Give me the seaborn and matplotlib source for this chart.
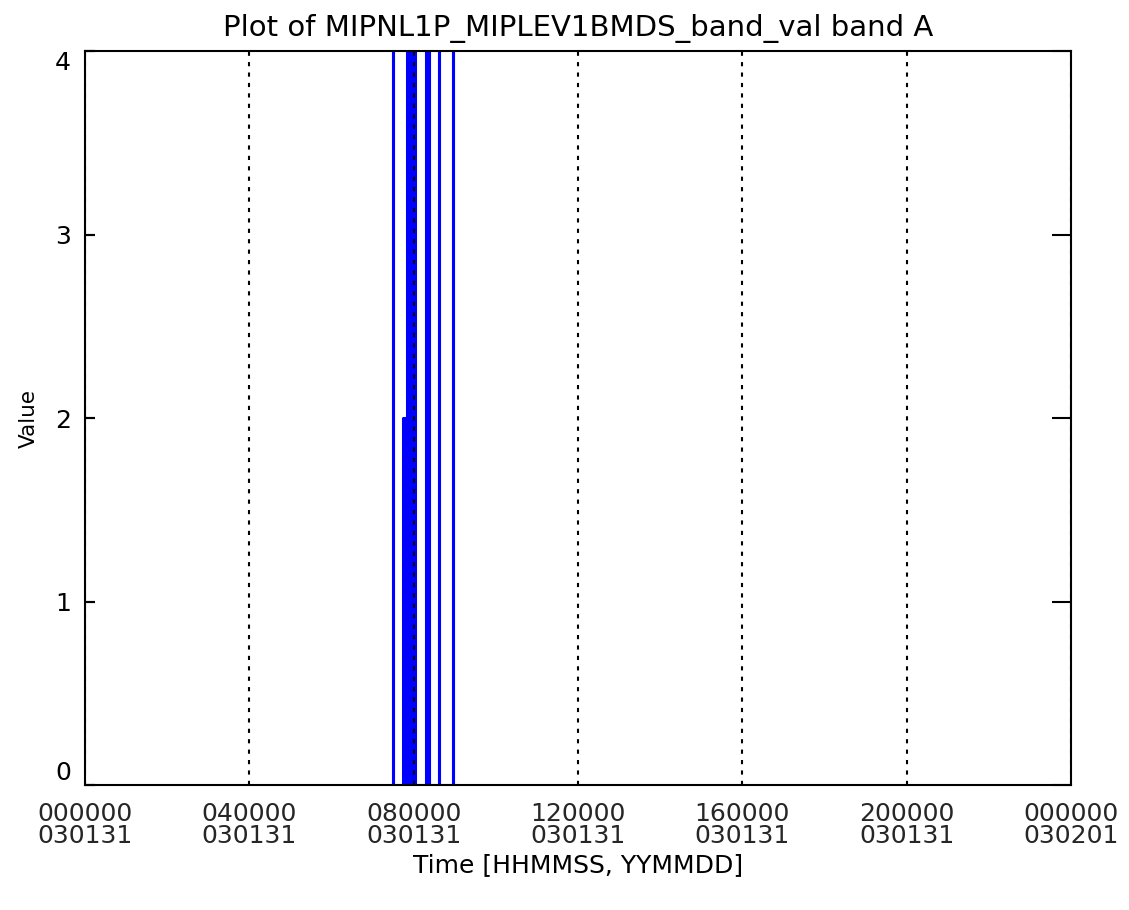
import matplotlib
matplotlib.use("Agg")
import matplotlib.pyplot as plt
import seaborn as sns

# ---- data (hours since 2003-01-31 00:00) ----
hour_ticks = [0, 4, 8, 12, 16, 20, 24]
tick_labels = ["000000\n030131", "040000\n030131", "080000\n030131",
               "120000\n030131", "160000\n030131", "200000\n030131",
               "000000\n030201"]
y_ticks = [0, 1, 2, 3, 4]
y_tick_labels = ["0", "1", "2", "3", "4"]

data_start = 7.42
data_end = 9.05
spike_start = [7.49, 7.74, 7.77, 7.80, 7.84, 7.87, 7.90, 7.93, 7.96, 7.99, 8.02,
               8.31, 8.34, 8.37, 8.61, 8.95]
spike_end = [7.505, 7.755, 7.785, 7.815, 7.855, 7.885, 7.915, 7.945, 7.975, 8.005, 8.035,
             8.325, 8.355, 8.385, 8.625, 8.965]
spike_value = [4, 2, 2, 2, 4, 4, 4, 4, 4, 4, 4,
               4, 4, 4, 4, 4]

title = "Plot of MIPNL1P_MIPLEV1BMDS_band_val band A"

# ---- build series ----
xs = [data_start]
ys = [0]
for s, e, v in zip(spike_start, spike_end, spike_value):
    xs += [s, s, e, e]
    ys += [0, v, v, 0]
xs.append(data_end)
ys.append(0)

sns.set_theme(style="ticks")
plt.rcParams['font.family'] = ['DejaVu Sans']

fig = plt.figure(figsize=(11.29, 9.10), dpi=100)
ax = fig.add_axes([85/1129, 1-785/910, 986/1129, 734/910])

sns.lineplot(x=xs, y=ys, sort=False, estimator=None, color=(0, 0, 1),
             linewidth=2.2, ax=ax, zorder=2)

ax.set_xlim(0, 24)
ax.set_ylim(0, 4)
ax.set_xticks(hour_ticks)
ax.set_xticklabels(tick_labels, fontsize=18, linespacing=0.9)
ax.set_yticks(y_ticks)
ax.set_yticklabels(y_tick_labels, fontsize=18)

ax.set_axisbelow(False)
ax.xaxis.grid(True, color='black', linewidth=1.5, linestyle=(0, (2, 3)))
ax.yaxis.grid(False)

ax.tick_params(axis='x', length=0, pad=12, bottom=False, top=False)
ax.tick_params(axis='y', which='major', direction='in', length=7, width=1.5, pad=10,
               left=True, right=False, color='black', labelcolor='black')
labs = ax.get_yticklabels()
labs[0].set_verticalalignment('bottom')
labs[-1].set_verticalalignment('top')

for sp in ax.spines.values():
    sp.set_visible(True)
    sp.set_color('black')
    sp.set_linewidth(1.5)

ax.set_title(title, fontsize=21, pad=11, color='black')
ax.set_xlabel("Time [HHMMSS, YYMMDD]", fontsize=18, labelpad=4, color='black')
ax.set_ylabel("Value", fontsize=15.5, color='black')
ax.yaxis.set_label_coords(-0.047, 0.5)

# right-hand ticks (longer), no labels
ax2 = ax.twinx()
ax2.patch.set_visible(False)
ax2.set_ylim(0, 4)
ax2.set_yticks(y_ticks)
ax2.set_yticklabels([])
ax2.tick_params(axis='y', direction='in', length=14, width=1.5, color='black',
                right=True, left=False)
for sp in ax2.spines.values():
    sp.set_visible(False)

# left-hand short ticks drawn on an overlay
ax3 = ax.twinx()
ax3.patch.set_visible(False)
ax3.set_ylim(0, 4)
ax3.yaxis.set_ticks_position('left')
ax3.set_yticks(y_ticks)
ax3.set_yticklabels([])
ax3.tick_params(axis='y', direction='in', length=7, width=1.5, color='black',
                left=True, right=False, labelleft=False, labelright=False)
ax3.tick_params(axis='x', bottom=False, top=False, labelbottom=False)
for sp in ax3.spines.values():
    sp.set_visible(False)

fig.savefig("out.png", dpi=100, facecolor='white')
